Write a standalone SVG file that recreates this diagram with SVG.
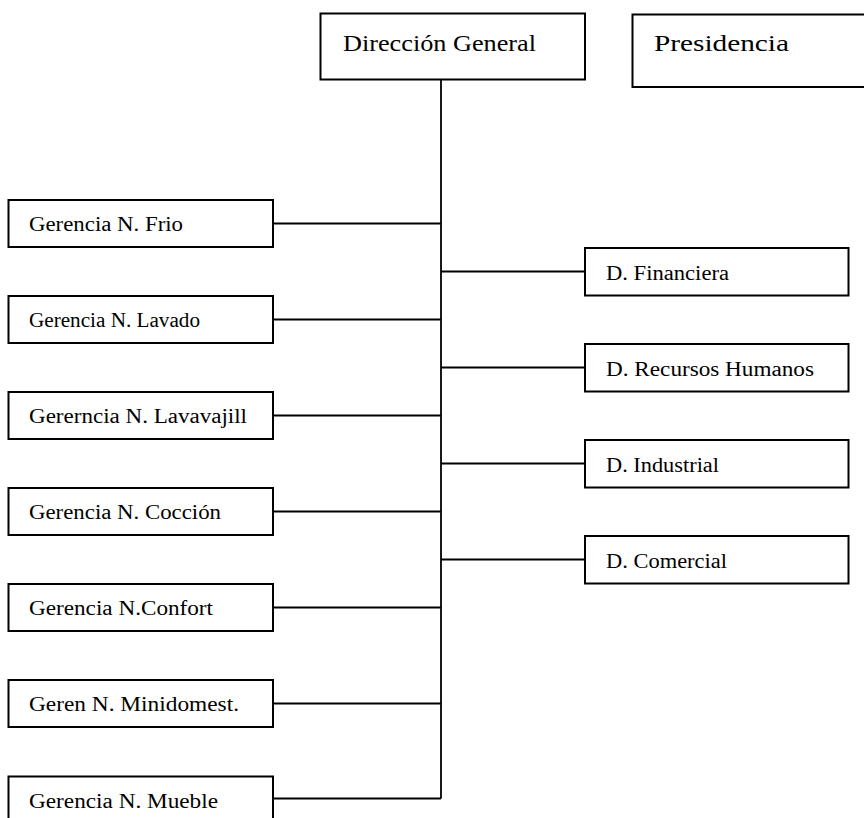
<svg xmlns="http://www.w3.org/2000/svg" width="864" height="818" viewBox="0 0 864 818">
<style>
.box{fill:#fff;stroke:#000;stroke-width:2}
.t{font-family:"Liberation Serif","Times New Roman",serif;font-size:20px;fill:#000}
.big{font-size:24px}
.c{fill:none;stroke:#000;stroke-width:1.8}
</style>
<rect width="864" height="818" fill="#fff"/>
<g id="connectors">
<line class="c" x1="441" y1="79.5" x2="441" y2="798.5"/>
<line class="c" x1="273" y1="223.5" x2="441" y2="223.5"/>
<line class="c" x1="273" y1="319.5" x2="441" y2="319.5"/>
<line class="c" x1="273" y1="415.5" x2="441" y2="415.5"/>
<line class="c" x1="273" y1="511.5" x2="441" y2="511.5"/>
<line class="c" x1="273" y1="607.5" x2="441" y2="607.5"/>
<line class="c" x1="273" y1="703.5" x2="441" y2="703.5"/>
<line class="c" x1="273" y1="798.5" x2="441" y2="798.5"/>
<line class="c" x1="441" y1="271.5" x2="585" y2="271.5"/>
<line class="c" x1="441" y1="367.5" x2="585" y2="367.5"/>
<line class="c" x1="441" y1="463.5" x2="585" y2="463.5"/>
<line class="c" x1="441" y1="559.5" x2="585" y2="559.5"/>
</g>
<g id="direccion-general">
<rect class="box" x="320.5" y="13.5" width="264.5" height="66"/>
<text class="t big" x="343" y="51" textLength="193" lengthAdjust="spacingAndGlyphs">Dirección General</text>
</g>
<g id="presidencia">
<rect class="box" x="632.5" y="14.5" width="240" height="72.5"/>
<text class="t big" x="654" y="51" textLength="135" lengthAdjust="spacingAndGlyphs">Presidencia</text>
</g>
<g id="g-frio">
<rect class="box" x="8.5" y="200" width="264.5" height="47"/>
<text class="t" x="29" y="231" textLength="154" lengthAdjust="spacingAndGlyphs">Gerencia N. Frio</text>
</g>
<g id="g-lavado">
<rect class="box" x="8.5" y="296" width="264.5" height="47"/>
<text class="t" x="29" y="327" textLength="171" lengthAdjust="spacingAndGlyphs">Gerencia N. Lavado</text>
</g>
<g id="g-lavavajill">
<rect class="box" x="8.5" y="392" width="264.5" height="47"/>
<text class="t" x="29" y="423" textLength="218" lengthAdjust="spacingAndGlyphs">Gererncia N. Lavavajill</text>
</g>
<g id="g-coccion">
<rect class="box" x="8.5" y="488" width="264.5" height="47"/>
<text class="t" x="29" y="519" textLength="192" lengthAdjust="spacingAndGlyphs">Gerencia N. Cocción</text>
</g>
<g id="g-confort">
<rect class="box" x="8.5" y="584" width="264.5" height="47"/>
<text class="t" x="29" y="615" textLength="184" lengthAdjust="spacingAndGlyphs">Gerencia N.Confort</text>
</g>
<g id="g-minidomest">
<rect class="box" x="8.5" y="680" width="264.5" height="47"/>
<text class="t" x="29" y="711" textLength="210" lengthAdjust="spacingAndGlyphs">Geren N. Minidomest.</text>
</g>
<g id="g-mueble">
<rect class="box" x="8.5" y="776.5" width="264.5" height="47"/>
<text class="t" x="29" y="807.5" textLength="189" lengthAdjust="spacingAndGlyphs">Gerencia N. Mueble</text>
</g>
<g id="d-financiera">
<rect class="box" x="585" y="248" width="263.5" height="47.5"/>
<text class="t" x="606" y="279.5" textLength="123" lengthAdjust="spacingAndGlyphs">D. Financiera</text>
</g>
<g id="d-rrhh">
<rect class="box" x="585" y="344" width="263.5" height="47.5"/>
<text class="t" x="606" y="375.5" textLength="208" lengthAdjust="spacingAndGlyphs">D. Recursos Humanos</text>
</g>
<g id="d-industrial">
<rect class="box" x="585" y="440" width="263.5" height="47.5"/>
<text class="t" x="606" y="471.5" textLength="113" lengthAdjust="spacingAndGlyphs">D. Industrial</text>
</g>
<g id="d-comercial">
<rect class="box" x="585" y="536" width="263.5" height="47.5"/>
<text class="t" x="606" y="567.5" textLength="121" lengthAdjust="spacingAndGlyphs">D. Comercial</text>
</g>
</svg>
